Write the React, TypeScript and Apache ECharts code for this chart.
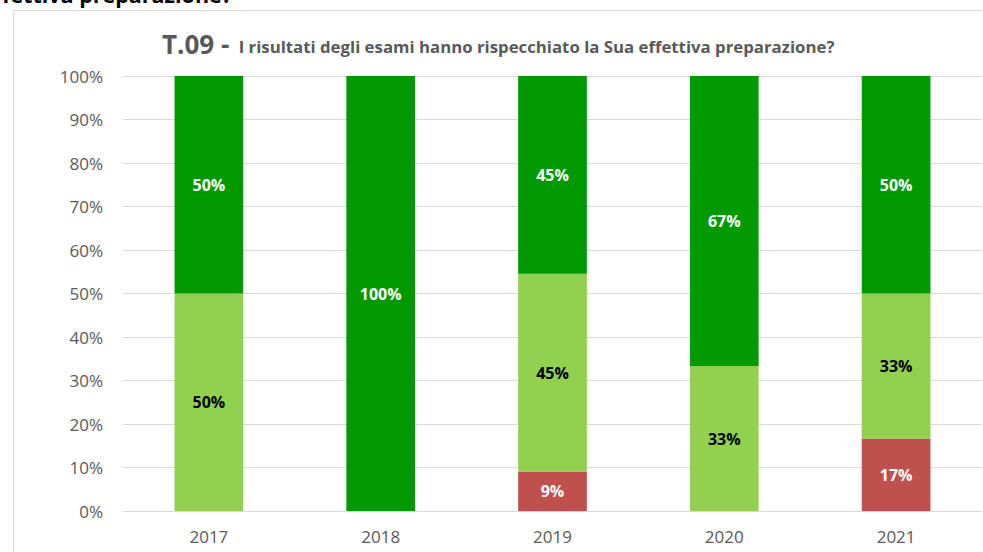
import React, { useEffect, useRef } from "react";
import * as echarts from "echarts";

const years = ["2017", "2018", "2019", "2020", "2021"];
const redValues = [0, 0, 9.09, 0, 16.67];
const lightGreenValues = [50, 0, 45.45, 33.33, 33.33];
const darkGreenValues = [50, 100, 45.45, 66.67, 50];
const yTicks = [0, 10, 20, 30, 40, 50, 60, 70, 80, 90, 100];

const FONT = "Open Sans";

export default function App() {
  const ref = useRef<HTMLDivElement>(null);
  useEffect(() => {
    document.body.style.margin = "0";
    if (!ref.current) return;
    const chart = echarts.init(ref.current, null, { renderer: "svg" });
    const lbl = (color: string) => ({
      show: true,
      position: "inside",
      color,
      fontFamily: FONT,
      fontWeight: "bold",
      fontSize: 16,
      formatter: (p: any) => (p.value > 0 ? Math.round(p.value) + "%" : ""),
    });
    chart.setOption({
      animation: false,
      textStyle: { fontFamily: FONT },
      grid: { left: 123, right: 1, top: 76, bottom: 41, containLabel: false },
      title: {
        left: 157,
        top: 26,
        text: "{a|T.09 -}  {b|I risultati degli esami hanno rispecchiato la Sua effettiva preparazione?}",
        textStyle: {
          rich: {
            a: { fontFamily: FONT, fontSize: 26, fontWeight: "bold", color: "#595959" },
            b: { fontFamily: FONT, fontSize: 16.8, fontWeight: "bold", color: "#595959", padding: [4, 0, 0, 0] },
          },
        },
      },
      graphic: [
        {
          type: "text",
          right: 751,
          top: -17,
          style: {
            text: "effettiva preparazione?",
            fontFamily: FONT,
            fontSize: 21.5,
            fontWeight: "bold",
            fill: "#000000",
          },
        },
        {
          type: "polyline",
          shape: { points: [[13.5, 552], [13.5, 10.5], [983, 10.5]] },
          style: { stroke: "#d9d9d9", lineWidth: 1, fill: "none" },
        },
      ],
      xAxis: {
        type: "category",
        data: years,
        axisLine: { lineStyle: { color: "#d9d9d9", width: 1 } },
        axisTick: { show: false },
        axisLabel: { color: "#595959", fontSize: 17, fontFamily: FONT, margin: 17 },
      },
      yAxis: {
        type: "value",
        min: yTicks[0],
        max: yTicks[yTicks.length - 1],
        interval: 10,
        axisLine: { show: false },
        axisTick: { show: false },
        splitLine: { lineStyle: { color: "#d9d9d9", width: 1 } },
        axisLabel: { color: "#595959", fontSize: 17, fontFamily: FONT, margin: 20, formatter: "{value}%" },
      },
      series: [
        {
          type: "bar",
          stack: "s",
          barWidth: "40%",
          data: redValues,
          itemStyle: { color: "#C0504D" },
          label: lbl("#ffffff"),
        },
        {
          type: "bar",
          stack: "s",
          barWidth: "40%",
          data: lightGreenValues,
          itemStyle: { color: "#92D050" },
          label: lbl("#000000"),
        },
        {
          type: "bar",
          stack: "s",
          barWidth: "40%",
          data: darkGreenValues,
          itemStyle: { color: "#009900" },
          label: lbl("#ffffff"),
        },
      ],
    });
    return () => chart.dispose();
  }, []);
  return <div ref={ref} style={{ width: 983, height: 552 }} />;
}
